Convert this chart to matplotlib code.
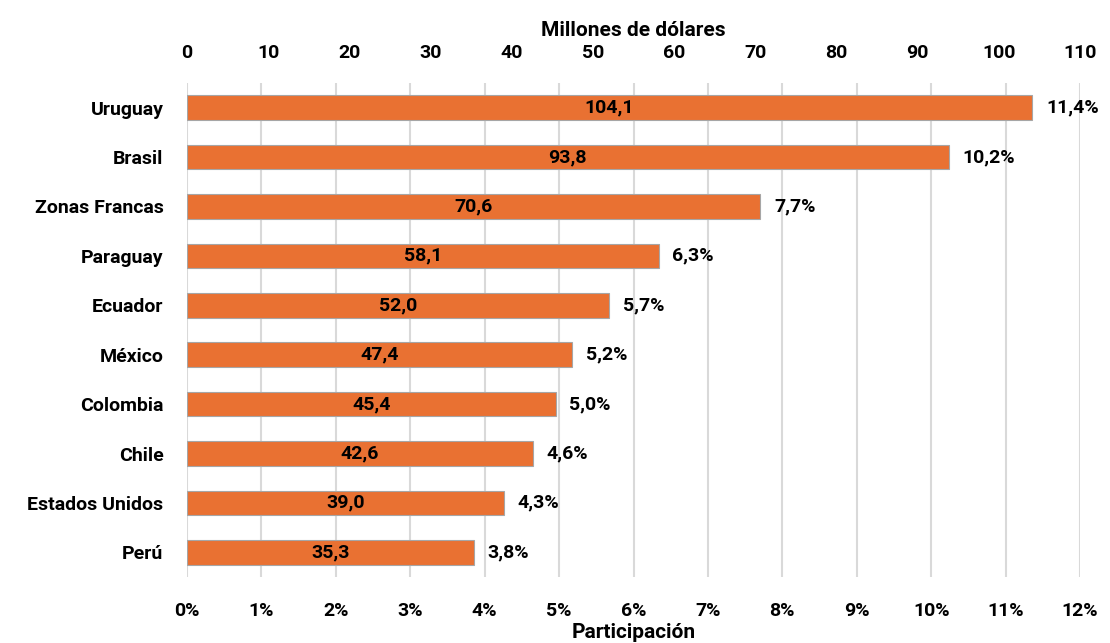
import matplotlib.pyplot as plt

paises = ['Uruguay', 'Brasil', 'Zonas Francas', 'Paraguay', 'Ecuador',
          'México', 'Colombia', 'Chile', 'Estados Unidos', 'Perú']
millones = [104.1, 93.8, 70.6, 58.1, 52.0, 47.4, 45.4, 42.6, 39.0, 35.3]
participacion = [11.4, 10.2, 7.7, 6.3, 5.7, 5.2, 5.0, 4.6, 4.3, 3.8]

plt.rcParams['font.family'] = ['Roboto', 'DejaVu Sans']
plt.rcParams['font.weight'] = 'bold'

fig = plt.figure(figsize=(11.1, 6.43), dpi=100)
ax = fig.add_axes([0.1685, 0.1026, 0.8045, 0.7684])
ax2 = ax.twiny()

y_pos = list(range(len(paises)))

# bottom axis: participacion (%), carries the gridlines
ax.set_xlim(0, 12)
ax.set_xticks(range(0, 13))
ax.set_xticklabels([f'{i}%' for i in range(0, 13)])
ax.set_ylim(9.5, -0.5)
ax.set_yticks(y_pos)
ax.set_yticklabels(paises)
ax.grid(axis='x', color='#d9d9d9', linewidth=1.5)
ax.set_axisbelow(True)
ax.tick_params(axis='x', length=0, pad=18, labelsize=14)
ax.tick_params(axis='y', length=0, pad=17, labelsize=14)
ax.set_xlabel('Participación', fontsize=15, fontweight='bold', labelpad=2)

# top axis: millones de dolares, bars drawn here
ax2.barh(y_pos, millones, height=0.5, color='#E97132', edgecolor='#a6a6a6', linewidth=0.8)
ax2.set_xlim(0, 110)
ax2.set_xticks(range(0, 111, 10))
ax2.tick_params(axis='x', length=0, pad=15, labelsize=14)
ax2.set_xlabel('Millones de dólares', fontsize=15, fontweight='bold', labelpad=6)

for sp in ax.spines.values():
    sp.set_visible(False)
for sp in ax2.spines.values():
    sp.set_visible(False)

for i, (m, p) in enumerate(zip(millones, participacion)):
    ax2.text(m / 2, i, f'{m:.1f}'.replace('.', ','), ha='center', va='center',
             fontsize=14, fontweight='bold', color='black')
    ax2.text(m + 1.7, i, f'{p:.1f}%'.replace('.', ','), ha='left', va='center',
             fontsize=14, fontweight='bold', color='black')

plt.savefig('out.png', dpi=100)
